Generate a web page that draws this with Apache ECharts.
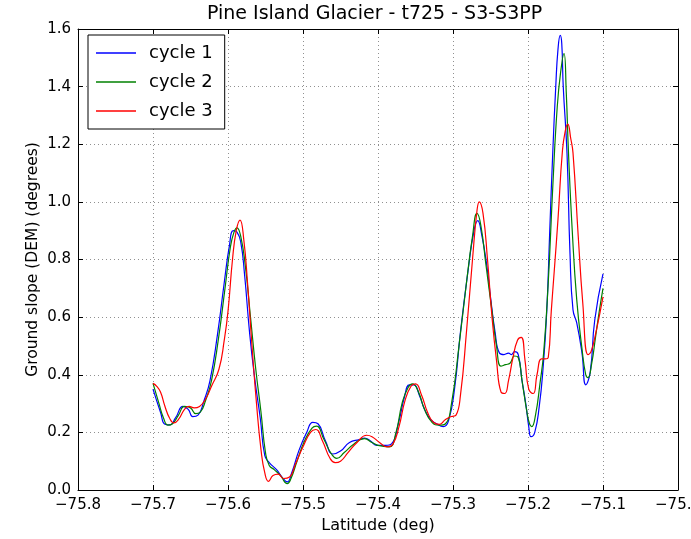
<!DOCTYPE html>
<html>
<head>
<meta charset="utf-8">
<script src="https://cdn.jsdelivr.net/npm/echarts@6/dist/echarts.min.js"></script>
<style>
  html, body { margin: 0; padding: 0; background: #fff; overflow: hidden; }
  #chart { width: 691px; height: 539px; }
</style>
</head>
<body>
<div id="chart"></div>
<script>
// Ground slope profiles along track t725 for three repeat cycles
const chartTitle = 'Pine Island Glacier - t725 - S3-S3PP';
const xAxisName = 'Latitude (deg)';
const yAxisName = 'Ground slope (DEM) (degrees)';
const seriesNames = ['cycle 1', 'cycle 2', 'cycle 3'];

const latCycle1 = [-75.700,-75.690,-75.684,-75.678,-75.670,-75.660,-75.653,-75.647,-75.640,-75.632,-75.624,-75.614,-75.605,-75.598,-75.593,-75.588,-75.583,-75.578,-75.571,-75.564,-75.557,-75.551,-75.545,-75.535,-75.528,-75.521,-75.515,-75.505,-75.495,-75.487,-75.480,-75.470,-75.460,-75.450,-75.438,-75.425,-75.418,-75.410,-75.402,-75.390,-75.382,-75.372,-75.365,-75.358,-75.352,-75.345,-75.338,-75.330,-75.322,-75.313,-75.306,-75.298,-75.290,-75.280,-75.272,-75.267,-75.262,-75.255,-75.250,-75.244,-75.238,-75.232,-75.226,-75.222,-75.218,-75.213,-75.208,-75.203,-75.199,-75.196,-75.191,-75.185,-75.180,-75.175,-75.171,-75.167,-75.163,-75.160,-75.157,-75.155,-75.153,-75.148,-75.144,-75.140,-75.135,-75.128,-75.123,-75.117,-75.111,-75.100];
const valCycle1 = [0.35,0.27,0.228,0.226,0.25,0.29,0.28,0.255,0.26,0.31,0.38,0.54,0.72,0.85,0.90,0.895,0.86,0.75,0.54,0.38,0.25,0.12,0.095,0.07,0.045,0.028,0.06,0.14,0.20,0.235,0.23,0.17,0.125,0.135,0.165,0.175,0.18,0.17,0.155,0.155,0.16,0.24,0.32,0.365,0.365,0.33,0.28,0.245,0.23,0.22,0.24,0.35,0.55,0.76,0.90,0.935,0.89,0.78,0.67,0.55,0.475,0.47,0.475,0.47,0.48,0.47,0.38,0.30,0.22,0.185,0.20,0.29,0.42,0.62,0.90,1.17,1.40,1.53,1.578,1.55,1.40,1.17,0.82,0.625,0.58,0.475,0.365,0.41,0.59,0.75];

const latCycle2 = [-75.700,-75.692,-75.686,-75.680,-75.674,-75.666,-75.658,-75.650,-75.643,-75.637,-75.630,-75.622,-75.613,-75.604,-75.597,-75.592,-75.588,-75.583,-75.577,-75.570,-75.563,-75.556,-75.550,-75.545,-75.538,-75.530,-75.521,-75.516,-75.508,-75.498,-75.488,-75.482,-75.472,-75.462,-75.455,-75.445,-75.432,-75.418,-75.408,-75.400,-75.385,-75.376,-75.368,-75.360,-75.354,-75.346,-75.338,-75.328,-75.318,-75.310,-75.302,-75.292,-75.282,-75.274,-75.268,-75.263,-75.256,-75.248,-75.242,-75.236,-75.230,-75.224,-75.218,-75.213,-75.208,-75.202,-75.198,-75.195,-75.190,-75.184,-75.179,-75.173,-75.167,-75.161,-75.156,-75.152,-75.149,-75.146,-75.141,-75.135,-75.128,-75.123,-75.120,-75.115,-75.110,-75.105,-75.100];
const valCycle2 = [0.37,0.30,0.25,0.225,0.23,0.26,0.29,0.285,0.265,0.27,0.31,0.38,0.52,0.70,0.84,0.895,0.91,0.88,0.78,0.60,0.42,0.27,0.13,0.085,0.07,0.05,0.022,0.04,0.10,0.17,0.215,0.222,0.175,0.125,0.11,0.13,0.16,0.178,0.165,0.155,0.15,0.20,0.30,0.355,0.368,0.34,0.28,0.235,0.225,0.23,0.30,0.50,0.72,0.88,0.96,0.92,0.78,0.62,0.50,0.43,0.435,0.44,0.465,0.46,0.38,0.28,0.23,0.22,0.26,0.37,0.48,0.72,1.05,1.33,1.46,1.515,1.38,1.17,0.90,0.66,0.49,0.40,0.39,0.44,0.53,0.62,0.70];

const latCycle3 = [-75.700,-75.695,-75.690,-75.684,-75.678,-75.672,-75.666,-75.658,-75.652,-75.645,-75.638,-75.630,-75.622,-75.612,-75.605,-75.600,-75.594,-75.589,-75.584,-75.579,-75.574,-75.568,-75.562,-75.556,-75.551,-75.546,-75.540,-75.533,-75.526,-75.518,-75.510,-75.500,-75.490,-75.483,-75.474,-75.464,-75.457,-75.450,-75.440,-75.428,-75.415,-75.408,-75.398,-75.388,-75.380,-75.372,-75.364,-75.356,-75.350,-75.342,-75.334,-75.326,-75.318,-75.310,-75.302,-75.296,-75.290,-75.282,-75.274,-75.268,-75.265,-75.260,-75.254,-75.248,-75.242,-75.236,-75.231,-75.226,-75.220,-75.214,-75.209,-75.204,-75.199,-75.193,-75.188,-75.182,-75.177,-75.173,-75.169,-75.165,-75.160,-75.154,-75.150,-75.147,-75.143,-75.140,-75.133,-75.127,-75.120,-75.116,-75.110,-75.100];
const valCycle3 = [0.37,0.36,0.34,0.29,0.25,0.233,0.245,0.28,0.29,0.285,0.29,0.315,0.36,0.42,0.52,0.62,0.80,0.90,0.937,0.87,0.72,0.50,0.30,0.14,0.06,0.03,0.05,0.055,0.04,0.045,0.09,0.15,0.20,0.21,0.17,0.11,0.095,0.10,0.13,0.165,0.19,0.185,0.165,0.15,0.16,0.22,0.31,0.36,0.368,0.33,0.27,0.235,0.228,0.245,0.255,0.26,0.33,0.55,0.80,0.97,1.00,0.96,0.80,0.60,0.45,0.34,0.335,0.38,0.46,0.52,0.53,0.45,0.35,0.335,0.40,0.455,0.455,0.46,0.62,0.76,0.94,1.18,1.25,1.27,1.22,1.17,0.88,0.65,0.47,0.48,0.54,0.67];

const seriesColors = ['#0000ff', '#008000', '#ff0000'];
const latitudes = [latCycle1, latCycle2, latCycle3];
const values = [valCycle1, valCycle2, valCycle3];

const fontFamily = '"DejaVu Sans", sans-serif';
const fmtTick = (v, digits) => (v < 0 ? '\u2212' : '') + Math.abs(v).toFixed(digits);

const chart = echarts.init(document.getElementById('chart'), null, { renderer: 'canvas', width: 691, height: 539 });

// plot frame in pixels
const plotLeft = 78, plotTop = 29, plotWidth = 600, plotHeight = 461;

const gridLine = { show: true, lineStyle: { color: '#000', opacity: 0.55, width: 0.8, type: [1, 3] } };
const axisLine = { show: true, onZero: false, lineStyle: { color: '#000', width: 1 } };
const tick = { show: true, inside: true, length: 5, lineStyle: { color: '#000', width: 1 } };

chart.setOption({
  animation: false,
  backgroundColor: '#fff',
  graphic: [{
    type: 'text',
    left: plotLeft + plotWidth / 2 - 171,
    top: 5,
    style: { text: chartTitle, font: '19px "DejaVu Sans", sans-serif', fill: '#000' }
  }],
  grid: {
    left: plotLeft, top: plotTop, width: plotWidth, height: plotHeight,
    containLabel: false, outerBoundsMode: 'none'
  },
  legend: {
    orient: 'vertical',
    left: 88, top: 35,
    icon: 'rect',
    itemWidth: 40, itemHeight: 1.5, itemGap: 9,
    padding: [8, 12, 8, 8],
    borderColor: '#000', borderWidth: 1, backgroundColor: '#fff',
    textStyle: { fontFamily, fontSize: 18, color: '#000', padding: [0, 0, 0, 8], lineHeight: 20 },
    data: seriesNames
  },
  xAxis: [{
    type: 'value', min: -75.8, max: -75.0, interval: 0.1,
    name: xAxisName, nameLocation: 'middle', nameGap: 28,
    nameTextStyle: { fontFamily, fontSize: 16, color: '#000' },
    axisLine, axisTick: tick, splitLine: gridLine,
    axisLabel: { fontFamily, fontSize: 15, color: '#000', margin: 8, formatter: v => fmtTick(v, 1) }
  }, {
    type: 'value', position: 'top', min: -75.8, max: -75.0, interval: 0.1,
    axisLine, axisTick: tick, splitLine: { show: false }, axisLabel: { show: false }
  }],
  yAxis: [{
    type: 'value', min: 0, max: 1.6, interval: 0.2,
    name: yAxisName, nameLocation: 'middle', nameGap: 37, nameMoveOverlap: false,
    nameTextStyle: { fontFamily, fontSize: 15.5, color: '#000' },
    axisLine, axisTick: tick, splitLine: gridLine,
    axisLabel: { fontFamily, fontSize: 15, color: '#000', margin: 7, formatter: v => fmtTick(v, 1) }
  }, {
    type: 'value', position: 'right', min: 0, max: 1.6, interval: 0.2,
    axisLine, axisTick: tick, splitLine: { show: false }, axisLabel: { show: false }
  }],
  series: seriesNames.map((name, i) => ({
    name,
    type: 'line',
    xAxisIndex: 0, yAxisIndex: 0,
    data: latitudes[i].map((lat, j) => [lat, values[i][j]]),
    symbol: 'none',
    smooth: 0.5,
    color: seriesColors[i],
    lineStyle: { color: seriesColors[i], width: 1.2 }
  }))
});
</script>
</body>
</html>
